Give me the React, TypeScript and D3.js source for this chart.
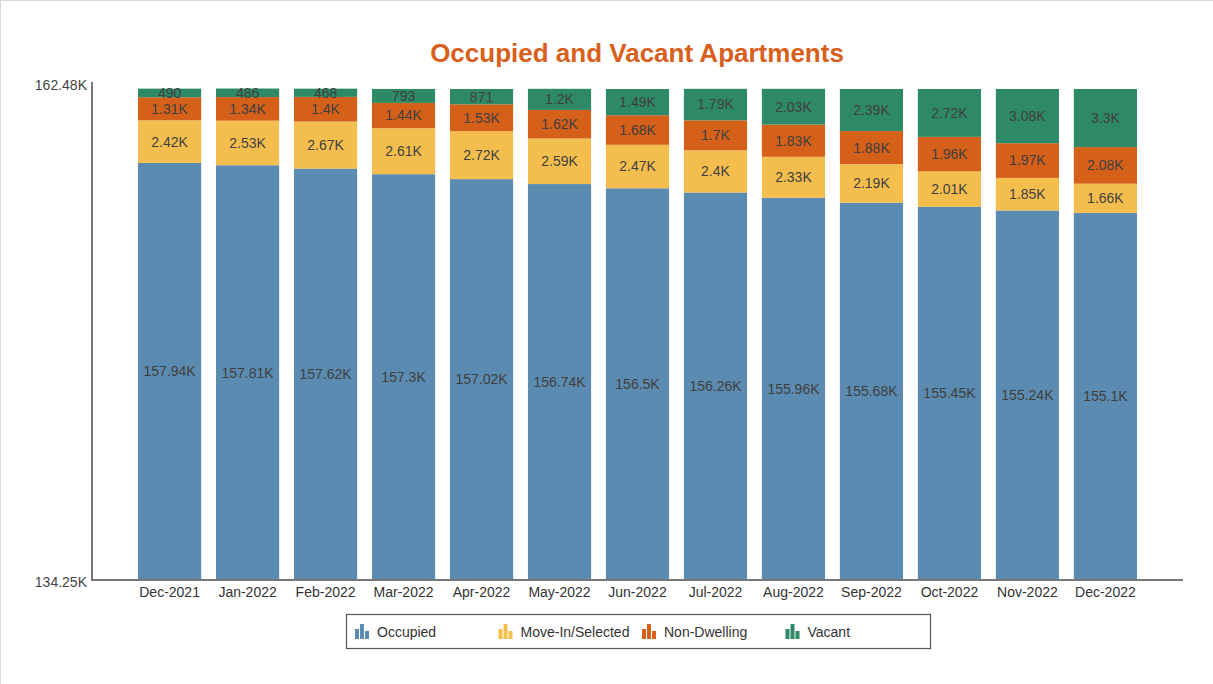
import * as d3 from 'd3';
import { useEffect, useRef } from 'react';

const months = [
  'Dec-2021', 'Jan-2022', 'Feb-2022', 'Mar-2022', 'Apr-2022', 'May-2022', 'Jun-2022',
  'Jul-2022', 'Aug-2022', 'Sep-2022', 'Oct-2022', 'Nov-2022', 'Dec-2022',
];
const occupied = [157940, 157810, 157620, 157300, 157020, 156740, 156500, 156260, 155960, 155680, 155450, 155240, 155100];
const moveIn = [2420, 2530, 2670, 2610, 2720, 2590, 2470, 2400, 2330, 2190, 2010, 1850, 1660];
const nonDwelling = [1310, 1340, 1400, 1440, 1530, 1620, 1680, 1700, 1830, 1880, 1960, 1970, 2080];
const vacant = [490, 486, 468, 793, 871, 1200, 1490, 1790, 2030, 2390, 2720, 3080, 3300];
const yTicks = [134250, 162480];

const seriesNames = ['Occupied', 'Move-In/Selected', 'Non-Dwelling', 'Vacant'];
const seriesColors = ['#5b8bb0', '#f4be4f', '#d5601a', '#2e8a66'];

const fmt = (v: number) => (v >= 1000 ? `${+(v / 1000).toFixed(2)}K` : `${v}`);

export default function App() {
  const ref = useRef<SVGSVGElement | null>(null);

  useEffect(() => {
    if (!ref.current) return;
    const svg = d3.select(ref.current);
    svg.selectAll('*').remove();

    const width = 1213;
    const height = 684;
    const font = '"Liberation Sans", Arial, sans-serif';

    svg.attr('width', width).attr('height', height).style('font-family', font);

    // frame (only top and left edges show in the source)
    svg.append('rect').attr('width', width).attr('height', height).attr('fill', '#fff');
    svg.append('line').attr('x1', 0).attr('x2', width).attr('y1', 0.5).attr('y2', 0.5).attr('stroke', '#d8d8d8');
    svg.append('line').attr('x1', 0.5).attr('x2', 0.5).attr('y1', 0).attr('y2', height).attr('stroke', '#d8d8d8');

    const rows = months.map((m, i) => ({
      month: m,
      Occupied: occupied[i],
      'Move-In/Selected': moveIn[i],
      'Non-Dwelling': nonDwelling[i],
      Vacant: vacant[i],
    }));

    const stack = d3.stack<any>().keys(seriesNames)(rows);

    const x = d3.scaleBand<string>().domain(months).range([92, 1183]).paddingInner(0.19).paddingOuter(0.59);
    const y = d3.scaleLinear().domain([yTicks[0], yTicks[1]]).range([580, 83]);

    // title
    svg.append('text').attr('x', 637).attr('y', 62).attr('text-anchor', 'middle')
      .attr('font-size', 26).attr('font-weight', 'bold').attr('fill', '#d8601c')
      .text('Occupied and Vacant Apartments');

    // bars
    stack.forEach((s, si) => {
      const g = svg.append('g');
      g.selectAll('rect').data(s).enter().append('rect')
        .attr('x', (d: any) => x(d.data.month)!)
        .attr('width', x.bandwidth())
        .attr('y', (d: any) => y(Math.min(d[1], yTicks[1])))
        .attr('height', (d: any) => y(Math.max(d[0], yTicks[0])) - y(Math.min(d[1], yTicks[1])))
        .attr('fill', seriesColors[si]);
      g.selectAll('text').data(s).enter().append('text')
        .attr('x', (d: any) => x(d.data.month)! + x.bandwidth() / 2)
        .attr('y', (d: any) => (y(Math.max(d[0], yTicks[0])) + y(d[1])) / 2)
        .attr('dy', '0.35em')
        .attr('text-anchor', 'middle')
        .attr('font-size', 14)
        .attr('fill', '#3f3f3f')
        .text((d: any) => fmt(d[1] - d[0]));
    });

    // axes
    svg.append('line').attr('x1', 92).attr('x2', 92).attr('y1', 82).attr('y2', 581)
      .attr('stroke', '#777').attr('stroke-width', 2);
    svg.append('line').attr('x1', 91).attr('x2', 1183).attr('y1', 580).attr('y2', 580)
      .attr('stroke', '#777').attr('stroke-width', 2);

    svg.append('g').selectAll('text').data(yTicks).enter().append('text')
      .attr('x', 87).attr('y', (d) => y(d) + 2).attr('dy', '0.35em').attr('text-anchor', 'end')
      .attr('font-size', 14).attr('fill', '#444')
      .text((d) => `${+(d / 1000).toFixed(2)}K`);

    svg.append('g').selectAll('text').data(months).enter().append('text')
      .attr('x', (d) => x(d)! + x.bandwidth() / 2).attr('y', 597).attr('text-anchor', 'middle')
      .attr('font-size', 14).attr('fill', '#333')
      .text((d) => d);

    // legend
    const legend = svg.append('g').attr('transform', 'translate(346, 614)');
    legend.append('rect').attr('x', 0.5).attr('y', 0.5).attr('width', 584).attr('height', 34)
      .attr('fill', '#fff').attr('stroke', '#555').attr('stroke-width', 1.2);
    seriesNames.forEach((name, i) => {
      const item = legend.append('g').attr('transform', `translate(${9 + i * 143.5}, 10)`);
      const bars = [[0, 5, 4, 10], [5, 0, 4, 15], [10, 7, 4, 8]];
      bars.forEach(([bx, by, bw, bh]) => {
        item.append('rect').attr('x', bx).attr('y', by).attr('width', bw).attr('height', bh)
          .attr('fill', seriesColors[i]);
      });
      item.append('text').attr('x', 22).attr('y', 8).attr('dy', '0.35em')
        .attr('font-size', 14).attr('fill', '#333').text(name);
    });
  }, []);

  return (
    <svg ref={ref} style={{ position: 'absolute', left: 0, top: 0, display: 'block' }} />
  );
}
